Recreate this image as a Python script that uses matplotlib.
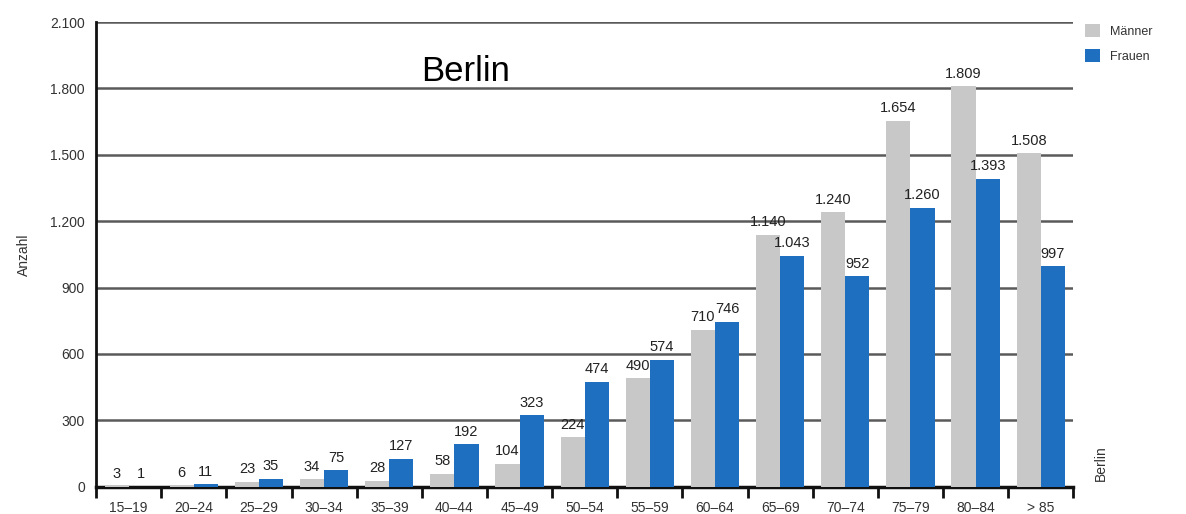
import matplotlib
import matplotlib.pyplot as plt
import numpy as np

matplotlib.use('Agg')

plt.rcParams['font.family'] = ['Liberation Sans Narrow', 'Liberation Sans', 'DejaVu Sans']

age_groups = ['15–19', '20–24', '25–29', '30–34', '35–39', '40–44', '45–49',
              '50–54', '55–59', '60–64', '65–69', '70–74', '75–79', '80–84', '> 85']
maenner = [3, 6, 23, 34, 28, 58, 104, 224, 490, 710, 1140, 1240, 1654, 1809, 1508]
frauen = [1, 11, 35, 75, 127, 192, 323, 474, 574, 746, 1043, 952, 1260, 1393, 997]
y_ticks = [0, 300, 600, 900, 1200, 1500, 1800, 2100]

grey = '#c8c8c8'
blue = '#1e6fc0'


def fmt(v):
    return f'{v:,}'.replace(',', '.')


fig = plt.figure(figsize=(11.86, 5.14), dpi=100)
ax = fig.add_axes([0.081, 0.053, 0.824, 0.904])

x = np.arange(len(age_groups))
w = 0.37
b1 = ax.bar(x - w / 2, maenner, w, color=grey, zorder=3, label='Männer')
b2 = ax.bar(x + w / 2, frauen, w, color=blue, zorder=3, label='Frauen')

for bars, vals in ((b1, maenner), (b2, frauen)):
    for r, v in zip(bars, vals):
        ax.text(r.get_x() + r.get_width() / 2, v + 25, fmt(v), ha='center', va='bottom',
                fontsize=10.5, color='#222222', zorder=4)

ax.set_xlim(-0.5, len(age_groups) - 0.5)
ax.set_ylim(0, 2100)
ax.set_yticks(y_ticks)
ax.set_yticklabels([fmt(t) for t in y_ticks], fontsize=10, color='#333333')
ax.tick_params(axis='y', length=0, pad=8)
ax.yaxis.grid(True, color='#5a5a5a', linewidth=1.8, zorder=0)

ax.set_xticks(np.arange(-0.5, len(age_groups)), minor=False)
ax.set_xticklabels([])
ax.set_xticks(x, minor=True)
ax.set_xticklabels(age_groups, minor=True, fontsize=10, color='#333333')
ax.tick_params(axis='x', which='major', direction='out', length=8, width=2, color='#111111')
ax.tick_params(axis='x', which='minor', length=0, pad=10)

for s in ('top', 'right'):
    ax.spines[s].set_visible(False)
ax.spines['left'].set_linewidth(2)
ax.spines['bottom'].set_linewidth(2.5)
ax.spines['left'].set_color('#111111')
ax.spines['bottom'].set_color('#111111')

ax.set_ylabel('Anzahl', fontsize=10, color='#333333', labelpad=14)
ax.text(0.378, 0.93, 'Berlin', transform=ax.transAxes, ha='center', va='top',
        fontsize=25, color='black', family=['Liberation Sans', 'DejaVu Sans'])
fig.text(0.928, 0.065, 'Berlin', rotation=90, ha='center', va='bottom', fontsize=10, color='#333333')

leg = fig.legend(loc='upper left', bbox_to_anchor=(0.905, 0.975), frameon=False,
                 fontsize=9, handlelength=1.2, handleheight=1.2, labelspacing=0.9,
                 labelcolor='#333333')

fig.savefig('out.png', dpi=100)
